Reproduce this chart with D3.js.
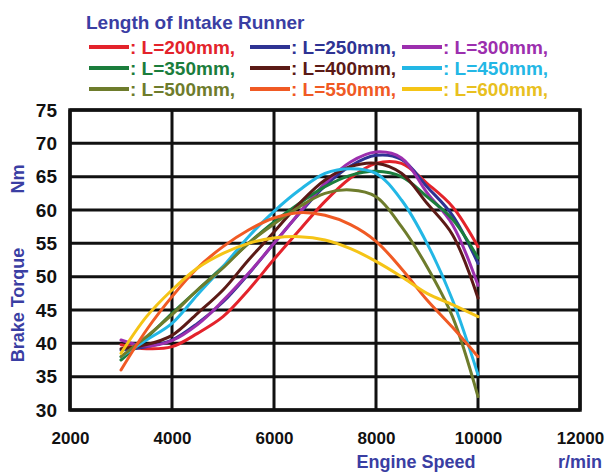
<!DOCTYPE html>
<html>
<head>
<meta charset="utf-8">
<script src="https://cdn.jsdelivr.net/npm/d3@7"></script>
<style>
  body { margin: 0; background: #fff; }
  text { font-family: "Liberation Sans", Arial, sans-serif; font-weight: bold; }
</style>
</head>
<body>
<div id="viz"></div>
<script>
var rpm = [3000, 3500, 4000, 4500, 5000, 5500, 6000, 6500, 7000, 7500, 8000, 8500, 9000, 9500, 10000]

var lengths = ["200", "250", "300", "350", "400", "450", "500", "550", "600"]

var torque_200 = [39.8, 39.2, 39.5, 41.5, 44.0, 48.0, 52.6, 57.0, 61.3, 64.8, 67.0, 67.0, 64.0, 60.5, 54.5]
var torque_250 = [39.0, 39.5, 40.5, 43.0, 46.2, 50.4, 55.0, 59.5, 63.6, 66.6, 68.2, 67.6, 63.5, 59.2, 52.0]
var torque_300 = [40.5, 39.6, 40.4, 42.8, 46.4, 50.5, 55.0, 59.6, 64.0, 67.2, 68.7, 67.8, 62.6, 57.8, 48.7]
var torque_350 = [37.5, 40.8, 44.5, 48.0, 51.5, 55.0, 58.2, 61.0, 63.5, 65.2, 65.8, 65.0, 62.0, 58.6, 52.8]
var torque_400 = [39.2, 39.8, 41.2, 44.5, 48.0, 52.5, 56.7, 61.0, 64.5, 66.5, 67.0, 65.5, 61.0, 56.3, 46.8]
var torque_450 = [38.0, 40.5, 43.0, 47.3, 51.5, 56.0, 59.8, 63.0, 65.5, 66.2, 65.5, 61.5, 55.0, 46.5, 35.3]
var torque_500 = [38.0, 41.0, 44.3, 48.0, 51.3, 55.0, 57.9, 60.5, 62.5, 63.0, 62.0, 57.5, 51.5, 44.0, 32.0]
var torque_550 = [36.0, 42.0, 47.0, 51.3, 54.5, 57.0, 58.8, 59.6, 59.2, 57.8, 55.3, 51.2, 46.5, 42.4, 38.0]
var torque_600 = [38.5, 44.0, 48.0, 51.3, 53.5, 55.0, 55.8, 56.0, 55.5, 54.2, 52.3, 50.0, 47.5, 45.8, 44.0]

var x_ticks = [2000, 4000, 6000, 8000, 10000, 12000]
var y_ticks = [30, 35, 40, 45, 50, 55, 60, 65, 70, 75]

var series = [torque_200, torque_250, torque_300, torque_350, torque_400, torque_450, torque_500, torque_550, torque_600]
var colours = ["#e3232b", "#2e3393", "#9c2fae", "#1b7d3c", "#5b1a16", "#23b7e5", "#6e7c2c", "#f05a24", "#f5c416"]
var text_colours = ["#e3232b", "#2e3393", "#9c2fae", "#1b7d3c", "#5b1a16", "#23b7e5", "#6e7c2c", "#f05a24", "#e8c020"]

var title_colour = "#3a3ea3"
var grid_colour = "#111111"

var svg = d3.select("#viz")
  .append("svg")
  .attr("width", 610)
  .attr("height", 472);

var x = d3.scaleLinear().domain([2000, 12000]).range([70, 580]);
var y = d3.scaleLinear().domain([30, 75]).range([410, 110]);

// grid
svg.append("g")
  .selectAll("line")
  .data(y_ticks)
  .enter().append("line")
  .attr("x1", x(2000)).attr("x2", x(12000))
  .attr("y1", function(d) { return y(d); })
  .attr("y2", function(d) { return y(d); })
  .attr("stroke", grid_colour)
  .attr("stroke-width", 3);

svg.append("g")
  .selectAll("line")
  .data(x_ticks)
  .enter().append("line")
  .attr("x1", function(d) { return x(d); })
  .attr("x2", function(d) { return x(d); })
  .attr("y1", y(75)).attr("y2", y(30))
  .attr("stroke", grid_colour)
  .attr("stroke-width", 3);

svg.append("rect")
  .attr("x", x(2000)).attr("y", y(75))
  .attr("width", x(12000) - x(2000))
  .attr("height", y(30) - y(75))
  .attr("fill", "none")
  .attr("stroke", grid_colour)
  .attr("stroke-width", 3.5);

// axes labels
var xAxis = svg.append("g")
  .attr("transform", "translate(0," + 444 + ")")
  .call(d3.axisBottom(x).tickValues(x_ticks).tickSize(0).tickFormat(d3.format("d")));
xAxis.select(".domain").remove();
xAxis.selectAll("text")
  .attr("dy", 0)
  .attr("y", 0)
  .attr("fill", "#111")
  .style("font-size", "17px")
  .style("font-family", "Liberation Sans, Arial, sans-serif")
  .style("font-weight", "bold");

var yAxis = svg.append("g")
  .attr("transform", "translate(" + 57 + ",0)")
  .call(d3.axisLeft(y).tickValues(y_ticks).tickSize(0));
yAxis.select(".domain").remove();
yAxis.selectAll("text")
  .attr("x", 0)
  .attr("fill", "#111")
  .style("font-size", "19px")
  .style("font-family", "Liberation Sans, Arial, sans-serif")
  .style("font-weight", "bold");

// curves
var line = d3.line()
  .x(function(d, i) { return x(rpm[i]); })
  .y(function(d) { return y(d); })
  .curve(d3.curveCatmullRom.alpha(0.5));

svg.append("g")
  .selectAll("path")
  .data(series)
  .enter().append("path")
  .attr("d", function(d) { return line(d); })
  .attr("fill", "none")
  .attr("stroke", function(d, i) { return colours[i]; })
  .attr("stroke-width", 3)
  .attr("stroke-linejoin", "round")
  .attr("stroke-linecap", "round");

// axis titles
svg.append("text")
  .attr("x", 416).attr("y", 468)
  .attr("text-anchor", "middle")
  .attr("fill", title_colour)
  .style("font-size", "18px")
  .text("Engine Speed");

svg.append("text")
  .attr("x", 580).attr("y", 468)
  .attr("text-anchor", "middle")
  .attr("fill", title_colour)
  .style("font-size", "18px")
  .text("r/min");

svg.append("text")
  .attr("transform", "translate(24,305) rotate(-90)")
  .attr("text-anchor", "middle")
  .attr("fill", title_colour)
  .style("font-size", "18px")
  .text("Brake Torque");

svg.append("text")
  .attr("transform", "translate(24,179) rotate(-90)")
  .attr("text-anchor", "middle")
  .attr("fill", title_colour)
  .style("font-size", "18px")
  .text("Nm");

// legend
svg.append("text")
  .attr("x", 86).attr("y", 29)
  .attr("fill", title_colour)
  .style("font-size", "19px")
  .text("Length of Intake Runner");

var col_x = [89, 250, 402]
var row_y = [47, 68, 89]

var legend = svg.append("g")
  .selectAll("g")
  .data(lengths)
  .enter().append("g")
  .attr("transform", function(d, i) { return "translate(" + col_x[i % 3] + "," + row_y[Math.floor(i / 3)] + ")"; });

legend.append("line")
  .attr("x1", 0).attr("x2", 40)
  .attr("y1", 0).attr("y2", 0)
  .attr("stroke", function(d, i) { return colours[i]; })
  .attr("stroke-width", 4);

legend.append("text")
  .attr("x", 41).attr("y", 7)
  .attr("fill", function(d, i) { return text_colours[i]; })
  .style("font-size", "19px")
  .text(function(d) { return ": L=" + d + "mm,"; });
</script>
</body>
</html>
